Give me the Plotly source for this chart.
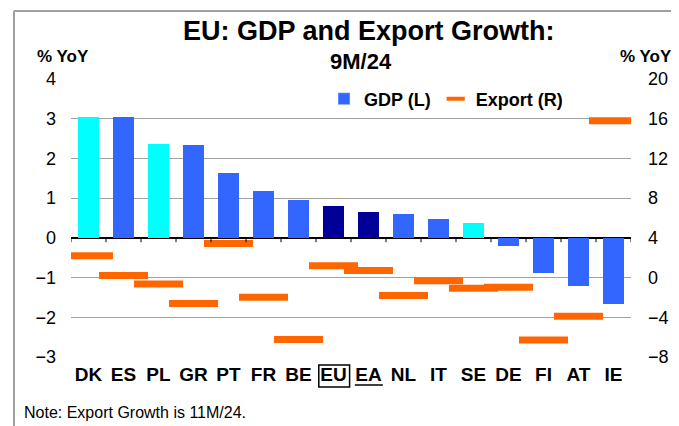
import plotly.graph_objects as go

categories = ["DK", "ES", "PL", "GR", "PT", "FR", "BE", "EU", "EA", "NL", "IT", "SE", "DE", "FI", "AT", "IE"]
gdp_growth = [3.05, 3.05, 2.37, 2.33, 1.63, 1.18, 0.95, 0.79, 0.65, 0.59, 0.48, 0.37, -0.21, -0.88, -1.22, -1.67]
export_growth = [2.2, 0.22, -0.66, -2.6, 3.43, -1.98, -6.24, 1.2, 0.72, -1.81, -0.32, -1.07, -0.97, -6.3, -3.9, 15.8]
cyan_group = ["DK", "PL", "SE"]
aggregate_group = ["EU", "EA"]
left_ticks = [-3, -2, -1, 0, 1, 2, 3, 4]
right_ticks = [-8, -4, 0, 4, 8, 12, 16, 20]

BLUE = "#3366FF"
CYAN = "#00FFFF"
NAVY = "#000099"
ORANGE = "#FF6600"
FONT = "Liberation Sans, Arial, sans-serif"

W, H = 679, 426
ML, MR, MT, MB = 63, 56, 71, 77
PW, PH = W - ML - MR, H - MT - MB


def px_x(p):
    return (p - ML) / PW


def px_y(p):
    return (H - MB - p) / PH


bar_colors = [CYAN if c in cyan_group else NAVY if c in aggregate_group else BLUE for c in categories]
idx = list(range(len(categories)))

fig = go.Figure()
fig.add_trace(go.Bar(
    x=idx, y=gdp_growth, name="GDP (L)", width=0.6,
    marker=dict(color=bar_colors, line=dict(width=0)),
    yaxis="y", showlegend=False,
))
fig.add_trace(go.Scatter(
    x=idx, y=export_growth, name="Export (R)", mode="markers", yaxis="y2", showlegend=False,
    marker=dict(symbol="line-ew", size=PW / len(categories), color=ORANGE,
                line=dict(width=7, color=ORANGE)),
))
# legend entries
fig.add_trace(go.Bar(x=[None], y=[None], name="<b>GDP (L)</b>", marker=dict(color=BLUE), yaxis="y"))
fig.add_trace(go.Scatter(x=[None], y=[None], name="<b>Export (R)</b>", mode="markers", yaxis="y2",
                         marker=dict(symbol="line-ew", size=13, color=ORANGE,
                                     line=dict(width=4, color=ORANGE))))

shapes = []
# zero axis tick marks at category boundaries
for i in range(len(categories) + 1):
    shapes.append(dict(type="line", xref="x", yref="y", x0=i - 0.5, x1=i - 0.5, y0=0, y1=-0.11,
                       line=dict(color="black", width=1)))
# EU box and EA underline
eu = categories.index("EU")
ea = categories.index("EA")
shapes.append(dict(type="rect", xref="x", yref="paper", x0=eu - 0.42, x1=eu + 0.46,
                   y0=px_y(379), y1=px_y(357), line=dict(color="black", width=1.5)))
shapes.append(dict(type="line", xref="x", yref="paper", x0=ea - 0.39, x1=ea + 0.41,
                   y0=px_y(377), y1=px_y(377), line=dict(color="black", width=1.5)))
# outer border (left and top)
shapes.append(dict(type="line", xref="paper", yref="paper", x0=px_x(6), x1=px_x(6),
                   y0=px_y(3), y1=px_y(440), line=dict(color="#A0A0A0", width=2)))
shapes.append(dict(type="line", xref="paper", yref="paper", x0=px_x(6), x1=px_x(690),
                   y0=px_y(3), y1=px_y(3), line=dict(color="#A0A0A0", width=2)))

annotations = [
    dict(text="<b>EU: GDP and Export Growth:</b>", x=px_x(361), y=px_y(23), xref="paper", yref="paper",
         showarrow=False, font=dict(size=27, color="black", family=FONT), xanchor="center", yanchor="middle"),
    dict(text="<b>9M/24</b>", x=px_x(353), y=px_y(54), xref="paper", yref="paper",
         showarrow=False, font=dict(size=22, color="black", family=FONT), xanchor="center", yanchor="middle"),
    dict(text="<b>% YoY</b>", x=px_x(55), y=px_y(48), xref="paper", yref="paper",
         showarrow=False, font=dict(size=17, color="black", family=FONT), xanchor="center", yanchor="middle"),
    dict(text="<b>% YoY</b>", x=px_x(638), y=px_y(48), xref="paper", yref="paper",
         showarrow=False, font=dict(size=17, color="black", family=FONT), xanchor="center", yanchor="middle"),
    dict(text="Note: Export Growth is 11M/24.", x=px_x(14), y=px_y(404), xref="paper", yref="paper",
         showarrow=False, font=dict(size=16, color="black", family=FONT), xanchor="left", yanchor="middle"),
]

fig.update_layout(
    width=W, height=H,
    margin=dict(l=ML, r=MR, t=MT, b=MB, pad=0),
    paper_bgcolor="white", plot_bgcolor="white",
    font=dict(family=FONT, color="black"),
    barmode="overlay",
    bargap=0,
    showlegend=True,
    legend=dict(orientation="h", x=px_x(316), y=px_y(91), xanchor="left", yanchor="middle",
                bgcolor="rgba(0,0,0,0)", font=dict(size=18, family=FONT),
                itemclick=False, traceorder="normal", tracegroupgap=0),
    xaxis=dict(
        range=[-0.5, len(categories) - 0.5], tickmode="array", tickvals=idx,
        ticktext=[f"<b>{c}</b>" for c in categories],
        showgrid=False, zeroline=False, showline=False, ticks="",
        tickfont=dict(size=19, family=FONT, color="black"), ticklabelstandoff=4,
    ),
    yaxis=dict(
        range=[-3, 4], tickmode="array", tickvals=left_ticks,
        showgrid=True, gridcolor="#A0A0A0", gridwidth=1,
        zeroline=True, zerolinecolor="black", zerolinewidth=1.5,
        showline=False, ticks="", tickfont=dict(size=18, family=FONT, color="black"),
        ticklabelstandoff=14,
    ),
    yaxis2=dict(
        range=[-8, 20], tickmode="array", tickvals=right_ticks, overlaying="y", side="right",
        showgrid=False, zeroline=False, showline=False, ticks="",
        tickfont=dict(size=18, family=FONT, color="black"), ticklabelstandoff=16,
    ),
    shapes=shapes,
    annotations=annotations,
)

fig.write_html("out.html")
